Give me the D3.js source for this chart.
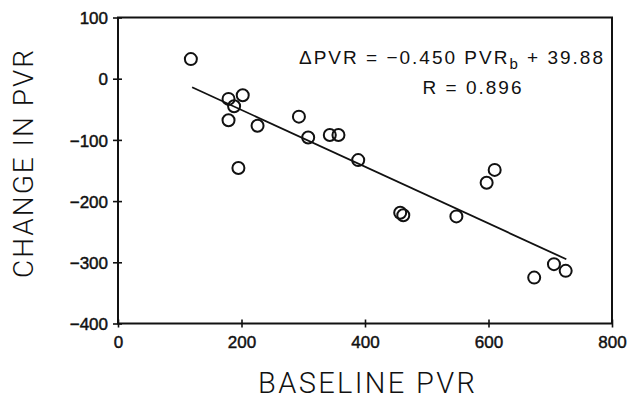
<!DOCTYPE html>
<html><head><meta charset="utf-8">
<script src="https://cdn.jsdelivr.net/npm/d3@7"></script>
<style>body{margin:0;background:#fff}</style>
</head><body>
<svg id="c" width="629" height="401"></svg>
<script>
const baseline = [118,179,202,188,179,226,293,308,195,343,357,389,610,597,457,462,548,674,706,725];
const change   = [32,-33,-27,-45,-68,-77,-62,-96,-146,-92,-92,-133,-149,-170,-219,-223,-225,-325,-303,-314];
const xTicks = [0,200,400,600,800];
const yTicks = [100,0,-100,-200,-300,-400];
// fitted line as drawn in the figure (end points)
const fitX = [120, 726];
const fitY = [-14, -295];

const svg = d3.select("#c");
const x = d3.scaleLinear().domain([0,800]).range([118,612]);
const y = d3.scaleLinear().domain([-400,100]).range([323.5,17.5]);
const ink = "#111";
const tickFont = "'Liberation Sans', Arial, sans-serif";

// frame
svg.append("rect").attr("x",x(0)).attr("y",y(100)).attr("width",x(800)-x(0)).attr("height",y(-400)-y(100))
  .attr("fill","none").attr("stroke",ink).attr("stroke-width",2);

const gx = svg.append("g").attr("transform",`translate(0,${y(-400)})`)
  .call(d3.axisBottom(x).tickValues(xTicks).tickFormat(d3.format("d")).tickSize(4));
gx.select(".domain").remove();
gx.selectAll(".tick line").attr("y1",-4).attr("y2",4).attr("stroke",ink).attr("stroke-width",1.6);
gx.selectAll(".tick text").attr("y",24).attr("dy",0)
  .attr("font-family",tickFont).attr("font-size",17).attr("fill",ink)
  .attr("stroke",ink).attr("stroke-width",0.45);

const gy = svg.append("g").attr("transform",`translate(${x(0)},0)`)
  .call(d3.axisLeft(y).tickValues(yTicks).tickFormat(d => d<0 ? "\u2212"+Math.abs(d) : d).tickSize(4));
gy.select(".domain").remove();
gy.selectAll(".tick line").attr("x1",-5).attr("x2",4).attr("stroke",ink).attr("stroke-width",1.6);
gy.selectAll(".tick text").attr("x",-10).attr("dy","0.36em")
  .attr("font-family",tickFont).attr("font-size",17).attr("fill",ink)
  .attr("stroke",ink).attr("stroke-width",0.45);

// regression line
svg.append("line")
  .attr("x1",x(fitX[0])).attr("y1",y(fitY[0]))
  .attr("x2",x(fitX[1])).attr("y2",y(fitY[1]))
  .attr("stroke",ink).attr("stroke-width",1.8);

// points
svg.append("g").selectAll("circle").data(baseline.map((b,i)=>[b,change[i]])).join("circle")
  .attr("cx",d=>x(d[0])).attr("cy",d=>y(d[1])).attr("r",6)
  .attr("fill","none").attr("stroke",ink).attr("stroke-width",2);

// equation
const eq = svg.append("text").attr("x",299).attr("y",64)
  .attr("font-family",tickFont).attr("font-size",19).attr("fill",ink)
  .attr("letter-spacing",2);
eq.append("tspan").text("\u0394PVR = \u22120.450 PVR");
eq.append("tspan").attr("dy",5).attr("font-size",15).text("b");
eq.append("tspan").attr("dy",-5).text(" + 39.88");
svg.append("text").attr("x",473).attr("y",94).attr("text-anchor","middle")
  .attr("font-family",tickFont).attr("font-size",19).attr("fill",ink)
  .attr("letter-spacing",2).text("R = 0.896");

// axis titles
svg.append("text").attr("x",366.5).attr("y",393).attr("text-anchor","middle")
  .attr("font-family","Roboto, sans-serif").attr("font-weight",300).attr("font-size",29).attr("fill",ink)
  .attr("textLength",217).attr("lengthAdjust","spacing").text("BASELINE PVR");
svg.append("text").attr("transform","translate(33,164) rotate(-90)").attr("text-anchor","middle")
  .attr("font-family","Roboto, sans-serif").attr("font-weight",300).attr("font-size",28).attr("fill",ink)
  .attr("textLength",228).attr("lengthAdjust","spacing").text("CHANGE IN PVR");
</script>
</body></html>
